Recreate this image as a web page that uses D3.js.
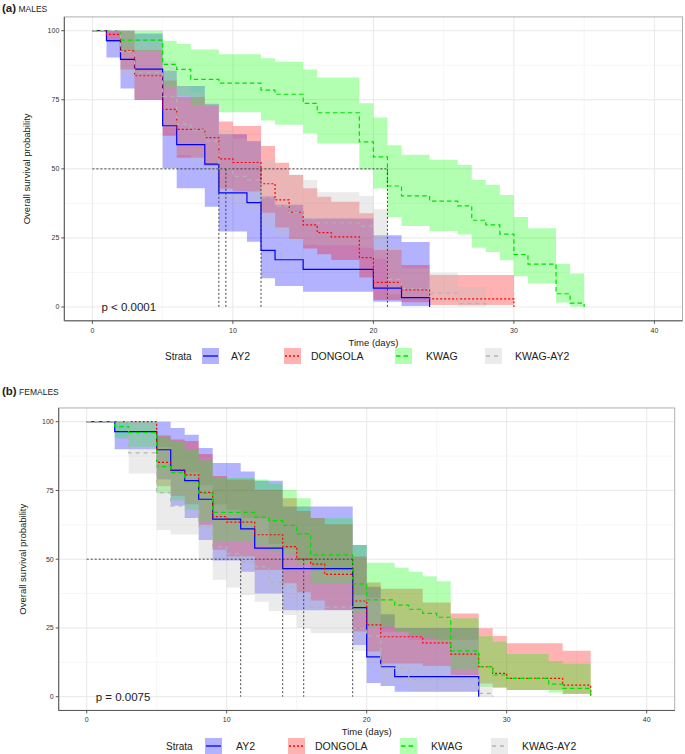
<!DOCTYPE html>
<html><head><meta charset="utf-8">
<script src="https://cdn.jsdelivr.net/npm/d3@7"></script>
<style>
body{margin:0;background:#fff}
svg{display:block}
text{font-family:"Liberation Sans",Arial,sans-serif}
</style>
</head><body>
<svg id="chart" width="685" height="754"></svg>
<script>
// ---------------- DATA ----------------
const strata = ["AY2", "DONGOLA", "KWAG", "KWAG-AY2"];
const xTicks = [0, 10, 20, 30, 40];
const yTicks = [0, 25, 50, 75, 100];
const panelLetters = ["(a)", "(b)"];
const panelNames = ["MALES", "FEMALES"];
const pValues = ["p < 0.0001", "p = 0.0075"];

// MALES
const maleAY2Time  = [0, 1, 2, 3, 5, 6, 8, 9, 11, 12, 13, 15, 20, 22, 24];
const maleAY2Surv  = [100, 96.4, 89.6, 86.1, 65.6, 58.8, 51.7, 41.3, 37.8, 20.5, 17.1, 13.6, 6.8, 3.4, 0];
const maleAY2Upper = [100, 100, 100, 99, 85.5, 80, 73.5, 62.5, 60, 40, 37, 32, 26, 23.5];
const maleAY2Lower = [100, 90.3, 79.1, 74.9, 50.2, 43, 36.3, 27.3, 23.6, 10.4, 7.6, 5.5, 1.9, 0.4];

const maleDONTime  = [0, 1, 2, 3, 5, 6, 8, 9, 10, 12, 13, 14, 15, 16, 17, 19, 20, 22, 24, 30];
const maleDONSurv  = [100, 98.7, 92.7, 83.7, 71.5, 64.3, 61.3, 53.6, 52.3, 44.6, 38.8, 34.3, 29.7, 26.9, 25.4, 17.9, 8.9, 6.2, 2.9, 0];
const maleDONUpper = [100, 100, 100, 93, 82, 76, 73, 67.1, 65.5, 58.3, 52.2, 47.8, 43, 39.9, 38.1, 33.9, 20.6, 15.2, 11.6];
const maleDONLower = [100, 96, 86, 75, 62, 54, 51, 42.8, 41.8, 34.1, 28.8, 24.6, 21.2, 19.1, 17, 10.7, 2.5, 1.7, 0.7];

const maleKWAGTime  = [0, 2, 5, 6, 7, 9, 12, 13, 15, 16, 19, 20, 21, 22, 24, 26, 27, 28, 29, 30, 31, 33, 34, 35];
const maleKWAGSurv  = [100, 96.6, 87.8, 86, 82.4, 81, 78.5, 77, 73.7, 70.3, 59.8, 54.3, 43.8, 40.2, 38.3, 36.6, 31.4, 29.7, 26.4, 19, 15.5, 4.8, 1.4, 0];
const maleKWAGUpper = [100, 100, 96.4, 95.2, 93.2, 91.5, 90, 88.8, 86, 83.1, 73.7, 68.6, 58.5, 55.1, 53.3, 51.4, 46, 44.2, 40.5, 32.6, 28.5, 15.6, 12.1];
const maleKWAGLower = [100, 92.5, 79.5, 76.5, 73, 70.5, 67.5, 66, 62.8, 59.2, 49.8, 42.9, 32.6, 29.3, 27.5, 26.2, 21.4, 19.9, 16.9, 11.1, 8.5, 1.6, 0.2];

const maleKAYTime  = [0, 2, 3, 5, 6, 7, 8, 9, 10, 11, 12, 13, 14, 15, 16, 19, 20, 21, 22, 24, 26, 28];
const maleKAYSurv  = [100, 92.4, 84.9, 76.2, 66.2, 64, 60.1, 50, 47.3, 46, 39.5, 36.5, 34.2, 32, 30.4, 29.3, 24.9, 10, 6.6, 5, 1.2, 0];
const maleKAYUpper = [100, 100, 96, 89, 80, 78, 74, 64, 61, 60, 53, 50, 48, 46, 41.5, 40.2, 35.4, 22, 14, 12.4, 7.2];
const maleKAYLower = [100, 84, 75, 65, 55, 52.5, 49, 39, 36.5, 35, 29, 26, 24, 22.5, 22.3, 21.4, 17.5, 4.5, 3.1, 2, 0.2];

// FEMALES
const femAY2Time  = [0, 2, 5, 6, 7, 8, 9, 11, 12, 14, 19, 20, 21, 22, 28];
const femAY2Surv  = [100, 96.4, 89.8, 82.3, 78.6, 71.8, 64.6, 61, 54, 46.6, 32.4, 14.5, 10.9, 7.3, 0];
const femAY2Upper = [100, 100, 100, 97.7, 95.3, 90.4, 85, 81.9, 78.5, 69.2, 55.2, 40, 30, 25];
const femAY2Lower = [100, 90, 79, 69.5, 65, 57, 49.5, 45.4, 37.5, 31.4, 18.8, 5, 3.9, 1.8];

const femDONTime  = [0, 5, 6, 7, 8, 9, 10, 12, 14, 15, 16, 17, 19, 20, 21, 24, 26, 28, 29, 30, 34, 36];
const femDONSurv  = [100, 85.2, 82.5, 80.7, 74.3, 65.5, 63.5, 58.9, 54.6, 50, 48.2, 44.5, 34.8, 26.1, 21.8, 19.6, 15.5, 10.9, 8.5, 6.7, 4.2, 0];
const femDONUpper = [100, 95, 93.5, 93, 88.3, 80.3, 79, 75.3, 72.2, 67.5, 65, 62.7, 51, 41.5, 39.3, 34.3, 30.3, 24.9, 22.1, 19.4, 16.7];
const femDONLower = [100, 76.5, 73, 70, 62.5, 53.4, 51, 46.1, 41.3, 38, 35, 31.6, 23.7, 16.4, 12.1, 11.2, 7.9, 4.8, 3.3, 2.4, 1];

const femKWAGTime  = [0, 2, 3, 5, 6, 7, 8, 9, 12, 13, 14, 15, 16, 19, 20, 22, 23, 24, 25, 26, 28, 29, 30, 33, 34, 36];
const femKWAGSurv  = [100, 98.2, 96, 83.7, 81.5, 78.2, 74, 67, 65.3, 64, 62.3, 59.2, 51.6, 41, 35.2, 33.3, 31.8, 30.3, 28.9, 16.7, 10.9, 7.9, 6.7, 4.6, 3, 0];
const femKWAGUpper = [100, 100, 100, 94.5, 93, 90, 86, 79.5, 79, 77.5, 75.2, 72.2, 64.9, 55.2, 48.7, 46.9, 45.4, 43.8, 42, 28.5, 22, 20, 15.5, 13, 12];
const femKWAGLower = [100, 94, 90.9, 74, 71.4, 68, 63.7, 56.5, 54.7, 52.6, 51.6, 48.5, 41, 30.5, 25.5, 23.6, 22.4, 21.3, 19.8, 9.8, 3.6, 3.4, 2.4, 1.5, 1.2];

const femKAYTime  = [0, 3, 5, 6, 8, 9, 10, 11, 12, 13, 14, 15, 16, 19, 20, 21, 23, 28, 29];
const femKAYSurv  = [100, 88.7, 74.2, 69.4, 62, 54.5, 52, 49, 47.3, 41.6, 40, 35.4, 32.6, 24.9, 22, 10.3, 6.1, 1.2, 0];
const femKAYUpper = [100, 100, 90.8, 81.6, 76.9, 69.9, 68, 65, 64.8, 55.5, 53.9, 50.1, 46, 37.1, 36, 23.6, 20.7, 5.6];
const femKAYLower = [100, 81.2, 60.6, 59, 50, 42.5, 39.7, 37, 34.5, 31.2, 29.7, 25, 23.1, 16.7, 13, 4.5, 1.8, 0];

// ---------------- STYLE / LAYOUT ----------------
const lineColors = ["#0000FF", "#FF0000", "#00E000", "#B4B4B4"];
const fillColors = ["#0000FF", "#FF0000", "#00FF00", "#BEBEBE"];
const dashes = [null, "2,2", "4.5,3", "4,4"];

const panels = [
  {
    title: {x: 2, y: 12},
    xRange: [64.3, 682.5], yRange: [320.8, 16.9],
    yTitleX: 30, xTitleY: 346, tickY: 333, legendY: 356,
    legend: {strataX: 165, keys: [202, 284, 395, 485], labels: [231, 311, 426, 515]},
    data: [
      [maleAY2Time, maleAY2Surv, maleAY2Upper, maleAY2Lower],
      [maleDONTime, maleDONSurv, maleDONUpper, maleDONLower],
      [maleKWAGTime, maleKWAGSurv, maleKWAGUpper, maleKWAGLower],
      [maleKAYTime, maleKAYSurv, maleKAYUpper, maleKAYLower]
    ]
  },
  {
    title: {x: 2, y: 395},
    xRange: [58.7, 674.7], yRange: [710.45, 407.95],
    yTitleX: 26, xTitleY: 735, tickY: 722, legendY: 746,
    legend: {strataX: 166, keys: [205, 288, 400, 491], labels: [236, 315, 431, 522]},
    data: [
      [femAY2Time, femAY2Surv, femAY2Upper, femAY2Lower],
      [femDONTime, femDONSurv, femDONUpper, femDONLower],
      [femKWAGTime, femKWAGSurv, femKWAGUpper, femKWAGLower],
      [femKAYTime, femKAYSurv, femKAYUpper, femKAYLower]
    ]
  }
];

const svg = d3.select("#chart");
svg.append("rect").attr("width", 685).attr("height", 754).attr("fill", "#fff");

function medianOf(t, s) {
  for (let i = 0; i < s.length; i++) {
    if (s[i] <= 50) {
      if (s[i] === 50 && i + 1 < t.length) return (t[i] + t[i + 1]) / 2;
      return t[i];
    }
  }
  return null;
}

panels.forEach((p, pi) => {
  const x = d3.scaleLinear().domain([-2, 42]).range(p.xRange);
  const y = d3.scaleLinear().domain([-5, 105]).range(p.yRange);
  const g = svg.append("g");
  const [x0, x1] = p.xRange, [yb, yt] = p.yRange;

  // title
  const tt = g.append("text").attr("x", p.title.x).attr("y", p.title.y);
  tt.append("tspan").attr("font-weight", "bold").attr("font-size", 11.5).attr("fill", "#222").text(panelLetters[pi]);
  tt.append("tspan").attr("font-size", 8.5).attr("fill", "#222").text(" " + panelNames[pi]);

  // grid
  const minorX = d3.range(5, 40, 10), minorY = d3.range(12.5, 100, 25);
  g.selectAll(null).data(minorX).join("line")
    .attr("x1", d => x(d)).attr("x2", d => x(d)).attr("y1", yt).attr("y2", yb)
    .attr("stroke", "#f2f2f2").attr("stroke-width", 0.7);
  g.selectAll(null).data(minorY).join("line")
    .attr("y1", d => y(d)).attr("y2", d => y(d)).attr("x1", x0).attr("x2", x1)
    .attr("stroke", "#f2f2f2").attr("stroke-width", 0.7);
  g.selectAll(null).data(xTicks).join("line")
    .attr("x1", d => x(d)).attr("x2", d => x(d)).attr("y1", yt).attr("y2", yb)
    .attr("stroke", "#e8e8e8").attr("stroke-width", 1);
  g.selectAll(null).data(yTicks).join("line")
    .attr("y1", d => y(d)).attr("y2", d => y(d)).attr("x1", x0).attr("x2", x1)
    .attr("stroke", "#e8e8e8").attr("stroke-width", 1);

  // bands
  p.data.forEach((d, si) => {
    const [t, s, up, lo] = d;
    const n = t.length;
    const pts = up.map((u, i) => ({t: t[i], hi: u, lo: lo[i]}));
    pts.push({t: t[n - 1], hi: up[up.length - 1], lo: lo[lo.length - 1]});
    const area = d3.area().curve(d3.curveStepAfter)
      .x(q => x(q.t)).y0(q => y(q.lo)).y1(q => y(q.hi));
    g.append("path").attr("d", area(pts)).attr("fill", fillColors[si]).attr("fill-opacity", 0.3);
  });

  // survival lines
  p.data.forEach((d, si) => {
    const [t, s] = d;
    const line = d3.line().curve(d3.curveStepAfter).x(q => x(q[0])).y(q => y(q[1]));
    g.append("path").attr("d", line(t.map((v, i) => [v, s[i]])))
      .attr("fill", "none").attr("stroke", lineColors[si]).attr("stroke-width", 1.2)
      .attr("stroke-dasharray", dashes[si]);
  });

  // median lines
  const meds = p.data.map(d => medianOf(d[0], d[1])).filter(m => m !== null);
  const mx = d3.max(meds);
  g.append("line").attr("x1", x(0)).attr("x2", x(mx)).attr("y1", y(50)).attr("y2", y(50))
    .attr("stroke", "#333").attr("stroke-width", 0.9).attr("stroke-dasharray", "2,2");
  meds.forEach(m => {
    g.append("line").attr("x1", x(m)).attr("x2", x(m)).attr("y1", y(50)).attr("y2", y(0))
      .attr("stroke", "#333").attr("stroke-width", 0.9).attr("stroke-dasharray", "2,2");
  });

  // p-value
  g.append("text").attr("x", x(0) + 9).attr("y", y(0) + 4).attr("font-size", 11.5)
    .attr("fill", "#222").text(pValues[pi]);

  // frame
  g.append("rect").attr("x", x0).attr("y", yt).attr("width", x1 - x0).attr("height", yb - yt)
    .attr("fill", "none").attr("stroke", "#b0b0b0").attr("stroke-width", 1);
  g.append("line").attr("x1", x0).attr("x2", x0).attr("y1", yt).attr("y2", yb).attr("stroke", "#555").attr("stroke-width", 1);
  g.append("line").attr("x1", x0).attr("x2", x1).attr("y1", yb).attr("y2", yb).attr("stroke", "#555").attr("stroke-width", 1);

  // axes ticks + labels
  g.selectAll(null).data(yTicks).join("line")
    .attr("x1", x0 - 3).attr("x2", x0).attr("y1", d => y(d)).attr("y2", d => y(d)).attr("stroke", "#555");
  g.selectAll(null).data(yTicks).join("text")
    .attr("x", x0 - 5).attr("y", d => y(d) + 2.5).attr("text-anchor", "end")
    .attr("font-size", 7).attr("fill", "#333").text(d => d);
  g.selectAll(null).data(xTicks).join("line")
    .attr("x1", d => x(d)).attr("x2", d => x(d)).attr("y1", yb).attr("y2", yb + 3).attr("stroke", "#555");
  g.selectAll(null).data(xTicks).join("text")
    .attr("x", d => x(d)).attr("y", p.tickY).attr("text-anchor", "middle")
    .attr("font-size", 7).attr("fill", "#333").text(d => d);

  // axis titles
  g.append("text").attr("transform", `translate(${p.yTitleX},${y(50)}) rotate(-90)`)
    .attr("text-anchor", "middle").attr("font-size", 9.5).attr("fill", "#222").text("Overall survival probability");
  g.append("text").attr("x", (x0 + x1) / 2).attr("y", p.xTitleY).attr("text-anchor", "middle")
    .attr("font-size", 9.5).attr("fill", "#222").text("Time (days)");

  // legend
  const ly = p.legendY;
  g.append("text").attr("x", p.legend.strataX).attr("y", ly + 4).attr("font-size", 10).attr("fill", "#222").text("Strata");
  strata.forEach((name, si) => {
    const kx = p.legend.keys[si];
    g.append("rect").attr("x", kx).attr("y", ly - 8).attr("width", 17).attr("height", 16)
      .attr("fill", fillColors[si]).attr("fill-opacity", 0.3);
    g.append("line").attr("x1", kx + 1).attr("x2", kx + 16).attr("y1", ly).attr("y2", ly)
      .attr("stroke", lineColors[si]).attr("stroke-width", 1.3).attr("stroke-dasharray", dashes[si]);
    g.append("text").attr("x", p.legend.labels[si]).attr("y", ly + 4).attr("font-size", 10.5)
      .attr("fill", "#222").text(name);
  });
});
</script>
</body></html>
